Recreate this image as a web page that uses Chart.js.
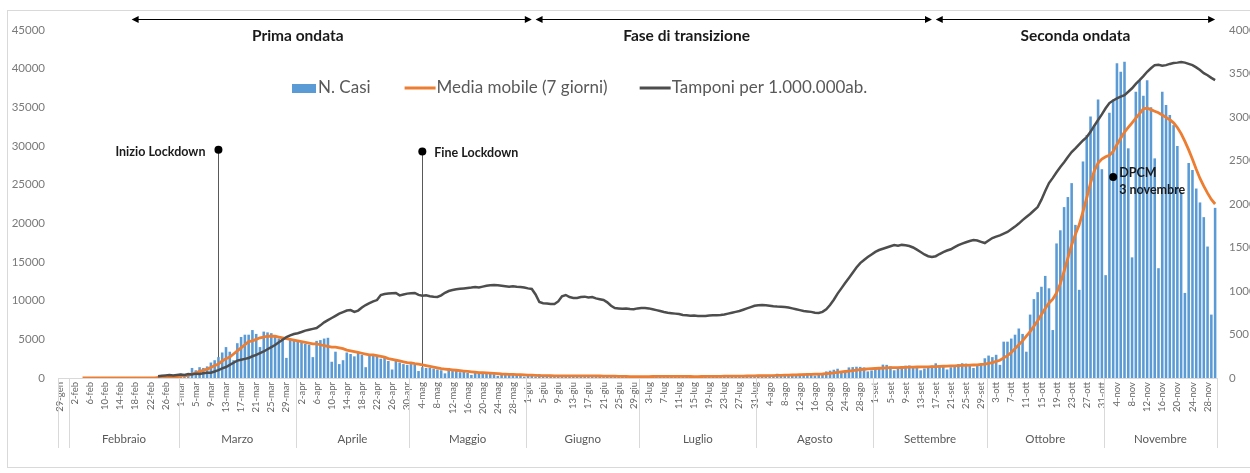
<!DOCTYPE html>
<html lang="it">
<head>
<meta charset="UTF-8">
<title>Casi giornalieri, media mobile e tamponi</title>
<script src="https://cdn.jsdelivr.net/npm/chart.js"></script>
<style>
  html, body { margin: 0; padding: 0; background: #fff; overflow: hidden; }
  #wrap { width: 1250px; height: 473px; overflow: hidden; }
  canvas { display: block; }
</style>
</head>
<body>
<div id="wrap"><canvas id="chart" width="1275" height="473"></canvas></div>
<script>
// days from 29 Jan to 30 Nov 2020
const monthAbbr = ['gen', 'feb', 'mar', 'apr', 'mag', 'giu', 'lug', 'ago', 'set', 'ott', 'nov'];
const monthNames = ['', 'Febbraio', 'Marzo', 'Aprile', 'Maggio', 'Giugno', 'Luglio', 'Agosto', 'Settembre', 'Ottobre', 'Novembre'];
const monthFirstDay = [29, 1, 1, 1, 1, 1, 1, 1, 1, 1, 1];
const monthLastDay = [31, 29, 31, 30, 31, 30, 31, 31, 30, 31, 30];

const categories = [];
const monthStart = [];
monthAbbr.forEach((m, i) => {
    monthStart.push(categories.length);
    for (let d = monthFirstDay[i]; d <= monthLastDay[i]; d++) categories.push(d + '-' + m);
});

// N. Casi
const nCasi = [
    0, 0, 0,
    0, 0, 0, 0, 0, 0, 0, 0, 0, 0, 0, 0, 0, 0, 0, 0, 0, 0, 0, 0, 0, 0, 0, 200, 90, 80, 250, 240, 240,
    560, 350, 470, 1300, 1000, 1400, 1300, 1500, 2000, 2300, 2700, 3300, 4000, 3400, 2300, 4500, 5300, 5600, 5600, 6200, 5700, 4000, 6000, 5900, 5800, 5300, 5100, 5100, 2600, 5000, 4900,
    4700, 4600, 4400, 4300, 2700, 4800, 4900, 5100, 5200, 2100, 3400, 1800, 2300, 3300, 3100, 2800, 3300, 3000, 1400, 3000, 2900, 2900, 2500, 2600, 2200, 1100, 2200, 2000, 1800, 1700,
    1800, 1700, 900, 1400, 1300, 1300, 1200, 1100, 1000, 600, 1300, 900, 950, 750, 850, 650, 400, 750, 650, 600, 620, 620, 500, 280, 400, 550, 560, 500, 420, 350, 180,
    300, 300, 180, 500, 270, 200, 150, 280, 200, 380, 160, 340, 330, 170, 210, 330, 330, 250, 260, 220, 120, 210, 190, 290, 260, 175, 175, 110, 140, 190,
    200, 220, 235, 190, 130, 200, 190, 230, 275, 190, 235, 120, 160, 150, 230, 235, 250, 220, 130, 190, 280, 305, 250, 275, 255, 130, 210, 290, 385, 380, 295,
    240, 160, 190, 385, 400, 550, 350, 460, 260, 410, 480, 520, 570, 630, 480, 320, 400, 640, 850, 950, 1070, 1200, 700, 880, 1370, 1410, 1460, 1440, 1370, 850, 980,
    1330, 1400, 1730, 1700, 1500, 1000, 1370, 1430, 1600, 1620, 1500, 1460, 1000, 1230, 1450, 1590, 1900, 1640, 1590, 1100, 1390, 1640, 1790, 1910, 1870, 1770, 1300, 1650, 1850, 2550,
    2900, 2700, 3000, 1700, 4700, 4700, 5100, 5600, 6400, 5700, 3400, 8200, 10200, 11100, 11800, 13200, 11600, 6200, 17400, 19100, 22100, 23400, 25200, 19800, 11400, 28000, 31400, 33800, 32700, 36000, 27000,
    13300, 34300, 36000, 40700, 39600, 40900, 29700, 15600, 37000, 38500, 36500, 38500, 35000, 28400, 14200, 37000, 35300, 34000, 32700, 30000, 24000, 11000, 27800, 26900, 24500, 22700, 20800, 17000, 8200, 22000
];

// Media mobile (7 giorni)
const mediaMobile = [
    null, null, null,
    null, null, null, 0, 0, 0, 0, 0, 0, 0, 0, 0, 0, 0, 0, 0, 0, 0, 0, 0, 0, 0, 0, 30, 40, 50, 90, 120, 160,
    240, 290, 350, 520, 650, 850, 1000, 1150, 1350, 1600, 1800, 2200, 2500, 2700, 3100, 3500, 3900, 4300, 4700, 4800, 5000, 5200, 5300, 5400, 5400, 5400, 5300, 5200, 5100, 5000, 4900,
    4800, 4700, 4600, 4500, 4400, 4400, 4300, 4200, 4100, 4000, 4000, 3900, 3800, 3600, 3500, 3400, 3300, 3200, 3100, 3000, 3000, 2900, 2800, 2700, 2500, 2400, 2300, 2200, 2100, 2000,
    1950, 1850, 1800, 1700, 1600, 1500, 1400, 1300, 1200, 1150, 1100, 1050, 1000, 950, 900, 850, 800, 750, 700, 680, 650, 620, 600, 560, 520, 500, 480, 460, 440, 420, 400,
    380, 360, 340, 320, 300, 300, 290, 280, 280, 270, 270, 270, 270, 270, 270, 270, 280, 280, 270, 260, 250, 240, 230, 230, 220, 210, 200, 190, 180, 180,
    180, 185, 190, 195, 200, 200, 200, 200, 205, 210, 210, 205, 200, 195, 190, 190, 195, 200, 205, 210, 215, 220, 230, 235, 240, 240, 240, 250, 260, 270, 280,
    290, 290, 290, 300, 310, 330, 350, 370, 380, 390, 400, 420, 440, 460, 480, 490, 500, 520, 560, 600, 650, 720, 780, 840, 900, 960, 1020, 1080, 1130, 1180, 1200,
    1230, 1260, 1290, 1310, 1330, 1340, 1350, 1360, 1380, 1400, 1410, 1420, 1430, 1440, 1450, 1460, 1480, 1500, 1520, 1540, 1560, 1580, 1600, 1620, 1640, 1660, 1680, 1700, 1750, 1800,
    1900, 2000, 2150, 2300, 2600, 2900, 3300, 3800, 4300, 4800, 5400, 6000, 6700, 7400, 8200, 9000, 9700, 10200, 11000, 12200, 13800, 15500, 17200, 18600, 19800, 21500, 23300, 25200, 26800, 27800, 28300,
    28600, 28800, 29300, 30200, 31000, 31800, 32400, 33000, 33600, 34200, 34800, 34900, 34700, 34500, 34300, 34000, 33700, 33400, 33000, 32400, 31600, 30600, 29500, 28300, 27000, 25800, 24800, 23900, 23100, 22500
];

// Tamponi per 1.000.000 ab. (asse destro)
const tamponi = [
    null, null, null,
    null, null, null, null, null, null, null, null, null, null, null, null, null, null, null, null, null, null, null, null, null, null, null, 20, 25, 30, 35, 30, 35,
    40, 35, 45, 40, 50, 45, 55, 60, 60, 75, 90, 110, 126, 150, 175, 200, 210, 220, 230, 250, 265, 287, 305, 330, 355, 379, 410, 440, 471, 490, 505,
    515, 529, 545, 555, 565, 575, 605, 640, 666, 690, 715, 740, 758, 775, 781, 760, 775, 810, 839, 860, 880, 896, 954, 965, 970, 975, 977, 950, 960, 970,
    975, 977, 955, 945, 950, 940, 935, 931, 950, 980, 1000, 1011, 1020, 1025, 1030, 1035, 1040, 1046, 1040, 1050, 1060, 1065, 1069, 1065, 1060, 1055, 1050, 1055, 1050, 1046, 1040,
    1030, 1023, 960, 873, 860, 855, 850, 850, 880, 940, 954, 930, 920, 919, 930, 935, 925, 931, 915, 905, 896, 870, 830, 804, 800, 795, 800, 793, 790, 800,
    805, 804, 800, 790, 780, 770, 758, 750, 745, 740, 735, 724, 720, 715, 718, 714, 712, 714, 718, 720, 722, 724, 730, 740, 750, 760, 770, 785, 800, 815, 830,
    836, 839, 835, 830, 825, 822, 820, 816, 810, 800, 790, 780, 770, 765, 760, 750, 747, 760, 790, 839, 900, 970, 1030, 1092, 1150, 1210, 1270, 1320, 1356, 1390, 1420,
    1450, 1471, 1485, 1500, 1515, 1528, 1520, 1530, 1525, 1517, 1500, 1475, 1448, 1420, 1400, 1390, 1400, 1425, 1448, 1465, 1480, 1505, 1528, 1545, 1560, 1575, 1586, 1580, 1565, 1551,
    1580, 1609, 1625, 1640, 1660, 1678, 1710, 1740, 1775, 1815, 1850, 1885, 1925, 1965, 2050, 2150, 2241, 2300, 2365, 2425, 2480, 2540, 2597, 2640, 2685, 2730, 2769, 2830, 2900, 2965, 3030,
    3100, 3160, 3190, 3215, 3235, 3252, 3290, 3330, 3380, 3424, 3470, 3520, 3560, 3596, 3600, 3590, 3596, 3610, 3620, 3625, 3631, 3625, 3610, 3596, 3570, 3540, 3504, 3480, 3450, 3424
];

// phases shown with arrows above the plot
const phaseNames = ['Prima ondata', 'Fase di transizione', 'Seconda ondata'];
const phaseFrom = ['17-feb', '3-giu', '17-set'];
const phaseTo = ['2-giu', '16-set', '30-nov'];
const phaseTextAt = ['1-apr', '13-lug', '24-ott'];

// event markers
const markerNames = ['Inizio Lockdown', 'Fine Lockdown', 'DPCM|3 novembre'];
const markerDates = ['11-mar', '4-mag', '3-nov'];
const markerValues = [29500, 29300, 26000];

const legendNames = ['N. Casi', 'Media mobile (7 giorni)', 'Tamponi per 1.000.000ab.'];

const FONT = 'Lato, "Open Sans", sans-serif';
const BLUE = '#5b9bd5';
const ORANGE = '#ed7d31';
const GREY = '#4d4d4d';
const LIGHT = '#d9d9d9';

Chart.defaults.font.family = FONT;

function xOf(chart, label) {
    return chart.scales.x.getPixelForValue(categories.indexOf(label));
}

const overlay = {
    id: 'overlay',
    beforeDraw(chart) {
        const ctx = chart.ctx;
        ctx.save();
        ctx.strokeStyle = LIGHT;
        ctx.lineWidth = 1;
        ctx.strokeRect(7.5, 10.5, chart.width, 457);
        ctx.restore();
    },
    beforeDatasetsDraw(chart) {
        const ctx = chart.ctx;
        const ys = chart.scales.y;
        const bottom = chart.chartArea.bottom;
        ctx.save();
        markerDates.forEach((d, i) => {
            if (i > 1) return;
            const x = Math.round(xOf(chart, d)) + 0.5;
            const y = ys.getPixelForValue(markerValues[i]);
            ctx.strokeStyle = '#595959';
            ctx.lineWidth = 1;
            ctx.beginPath();
            ctx.moveTo(x, y);
            ctx.lineTo(x, bottom);
            ctx.stroke();
        });
        ctx.restore();
    },
    afterDraw(chart) {
        const ctx = chart.ctx;
        const xs = chart.scales.x;
        const ys = chart.scales.y;
        const area = chart.chartArea;
        const n = categories.length;
        ctx.save();

        // month separators and group names
        const edges = monthStart.concat([n]).map(b => {
            if (b === 0) return area.left;
            if (b === n) return area.right;
            return (xs.getPixelForValue(b - 1) + xs.getPixelForValue(b)) / 2;
        });
        ctx.strokeStyle = LIGHT;
        ctx.lineWidth = 1;
        edges.forEach(x => {
            const px = Math.round(x) + 0.5;
            ctx.beginPath();
            ctx.moveTo(px, area.bottom);
            ctx.lineTo(px, area.bottom + 70);
            ctx.stroke();
        });
        ctx.fillStyle = '#595959';
        ctx.font = '11.5px ' + FONT;
        ctx.textAlign = 'center';
        ctx.textBaseline = 'middle';
        monthNames.forEach((m, i) => {
            if (m) ctx.fillText(m, (edges[i] + edges[i + 1]) / 2, area.bottom + 61);
        });

        // phase arrows
        const ay = 19.5;
        ctx.strokeStyle = '#000';
        ctx.fillStyle = '#000';
        ctx.lineWidth = 1.2;
        phaseNames.forEach((p, i) => {
            const x0 = xOf(chart, phaseFrom[i]);
            const x1 = xOf(chart, phaseTo[i]);
            ctx.beginPath();
            ctx.moveTo(x0 + 4, ay);
            ctx.lineTo(x1 - 4, ay);
            ctx.stroke();
            ctx.beginPath();
            ctx.moveTo(x0, ay);
            ctx.lineTo(x0 + 7, ay - 3.5);
            ctx.lineTo(x0 + 7, ay + 3.5);
            ctx.closePath();
            ctx.fill();
            ctx.beginPath();
            ctx.moveTo(x1, ay);
            ctx.lineTo(x1 - 7, ay - 3.5);
            ctx.lineTo(x1 - 7, ay + 3.5);
            ctx.closePath();
            ctx.fill();
        });
        ctx.fillStyle = '#1a1a1a';
        ctx.font = 'bold 15.5px ' + FONT;
        ctx.textAlign = 'center';
        phaseNames.forEach((p, i) => {
            ctx.fillText(p, xOf(chart, phaseTextAt[i]), 36);
        });

        // event markers
        ctx.font = 'bold 12.5px ' + FONT;
        markerDates.forEach((d, i) => {
            const x = xOf(chart, d);
            const y = ys.getPixelForValue(markerValues[i]);
            ctx.fillStyle = '#000';
            ctx.beginPath();
            ctx.arc(x, y, 4, 0, Math.PI * 2);
            ctx.fill();
            ctx.fillStyle = '#1a1a1a';
            const parts = markerNames[i].split('|');
            if (i === 0) {
                ctx.textAlign = 'right';
                ctx.fillText(parts[0], x - 13, y + 2);
            } else if (i === 1) {
                ctx.textAlign = 'left';
                ctx.fillText(parts[0], x + 12, y + 2);
            } else {
                ctx.textAlign = 'left';
                ctx.fillText(parts[0], x + 6, y - 4);
                ctx.fillText(parts[1], x + 6, y + 13);
            }
        });

        // legend
        const ly = 88;
        let lx = 292;
        ctx.font = '17px ' + FONT;
        ctx.textAlign = 'left';
        ctx.textBaseline = 'middle';
        ctx.fillStyle = BLUE;
        ctx.fillRect(lx, ly - 4, 24, 9);
        lx += 26;
        ctx.fillStyle = '#595959';
        ctx.fillText(legendNames[0], lx, ly);
        lx += ctx.measureText(legendNames[0]).width + 34;
        [ORANGE, GREY].forEach((c, k) => {
            ctx.strokeStyle = c;
            ctx.lineWidth = 3;
            ctx.beginPath();
            ctx.moveTo(lx, ly);
            ctx.lineTo(lx + 31, ly);
            ctx.stroke();
            lx += 32;
            ctx.fillStyle = '#595959';
            ctx.fillText(legendNames[k + 1], lx, ly);
            lx += ctx.measureText(legendNames[k + 1]).width + 32;
        });
        ctx.restore();
    }
};

new Chart(document.getElementById('chart'), {
    data: {
        labels: categories,
        datasets: [
            {
                type: 'line',
                label: legendNames[2],
                data: tamponi,
                yAxisID: 'y1',
                borderColor: GREY,
                borderWidth: 2.5,
                pointRadius: 0,
                order: 0
            },
            {
                type: 'line',
                label: legendNames[1],
                data: mediaMobile,
                yAxisID: 'y',
                borderColor: ORANGE,
                borderWidth: 2.8,
                pointRadius: 0,
                order: 1
            },
            {
                type: 'bar',
                label: legendNames[0],
                data: nCasi,
                yAxisID: 'y',
                backgroundColor: BLUE,
                barPercentage: 0.68,
                categoryPercentage: 1,
                order: 2
            }
        ]
    },
    options: {
        responsive: false,
        devicePixelRatio: 1,
        animation: false,
        layout: { padding: { top: 30, left: 0, right: 0, bottom: 0 } },
        plugins: {
            legend: { display: false },
            tooltip: { enabled: false }
        },
        scales: {
            x: {
                type: 'category',
                offset: true,
                grid: { display: false, drawTicks: false },
                border: { display: true, color: LIGHT },
                ticks: {
                    autoSkip: false,
                    maxRotation: 90,
                    minRotation: 90,
                    padding: 4,
                    color: '#666',
                    font: { size: 9.5 },
                    callback: (v, i) => (i % 4 === 0 ? categories[i] : null)
                },
                afterFit: s => { s.height = 95; }
            },
            y: {
                position: 'left',
                min: 0,
                max: 45000,
                grid: { display: false, drawTicks: false },
                border: { display: false },
                ticks: {
                    stepSize: 5000,
                    padding: 13,
                    color: '#7a7a7a',
                    font: { size: 11.5 },
                    callback: v => String(v)
                },
                afterFit: s => { s.width = 58; }
            },
            y1: {
                position: 'right',
                min: 0,
                max: 4000,
                grid: { display: false, drawTicks: false },
                border: { display: false },
                ticks: {
                    stepSize: 500,
                    padding: 12,
                    color: '#7a7a7a',
                    font: { size: 11.5 },
                    callback: v => String(v)
                },
                afterFit: s => { s.width = 58; }
            }
        }
    },
    plugins: [overlay]
});
</script>
</body>
</html>
